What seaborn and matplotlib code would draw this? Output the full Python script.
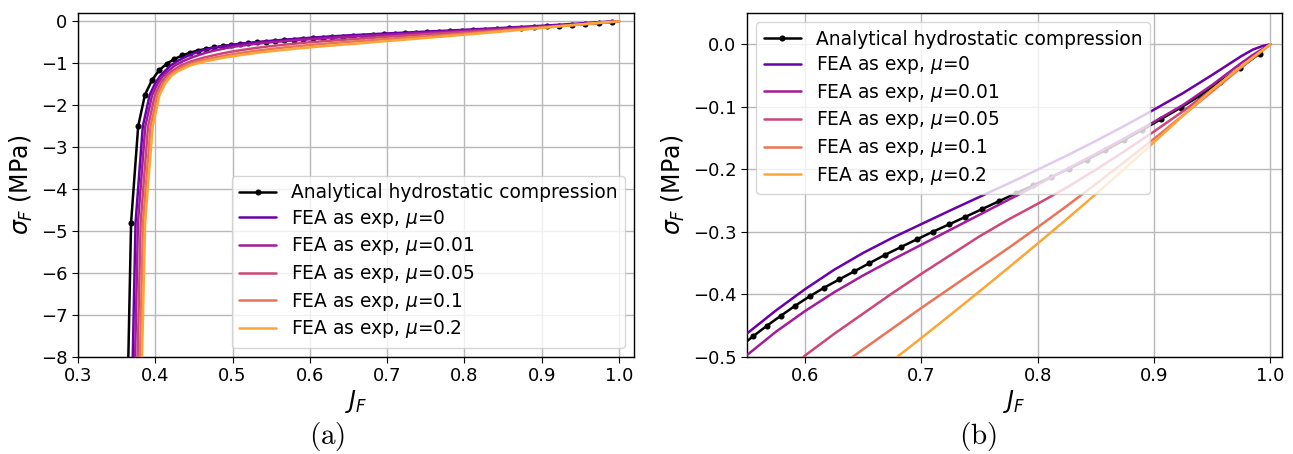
import numpy as np
import matplotlib
matplotlib.use("Agg")
import matplotlib.pyplot as plt
import seaborn as sns

# ---------------- data ----------------
J_analytical = [0.3600, 0.3687, 0.3779, 0.3866, 0.3960, 0.4053, 0.4148, 0.4248, 0.4349, 0.4451,
                0.4554, 0.4659, 0.4765, 0.4872, 0.4980, 0.5090, 0.5201, 0.5314, 0.5432, 0.5552,
                0.5672, 0.5792, 0.5915, 0.6039, 0.6166, 0.6293, 0.6423, 0.6553, 0.6684, 0.6821,
                0.6959, 0.7096, 0.7237, 0.7378, 0.7522, 0.7667, 0.7815, 0.7963, 0.8114, 0.8269,
                0.8424, 0.8580, 0.8738, 0.8900, 0.9062, 0.9228, 0.9393, 0.9563, 0.9735, 0.9908]
sigma_analytical = [-12.7, -4.80, -2.50, -1.754, -1.389, -1.163, -1.008, -0.897, -0.812, -0.745,
                    -0.695, -0.654, -0.620, -0.591, -0.566, -0.544, -0.523, -0.503, -0.485, -0.467,
                    -0.450, -0.434, -0.418, -0.403, -0.389, -0.376, -0.363, -0.350, -0.337, -0.3245,
                    -0.312, -0.300, -0.288, -0.276, -0.2635, -0.251, -0.238, -0.2255, -0.2125, -0.199,
                    -0.1845, -0.1695, -0.1537, -0.1368, -0.1195, -0.1015, -0.0825, -0.0605, -0.0385, -0.0148]

J_mu0 = [0.3656, 0.3709, 0.3745, 0.3798, 0.3839, 0.3887, 0.3927, 0.4001, 0.4064, 0.4121,
         0.4201, 0.4284, 0.4376, 0.4460, 0.4544, 0.4636, 0.4738, 0.4852, 0.4989, 0.5120,
         0.550, 0.575, 0.600, 0.625, 0.650, 0.675, 0.700, 0.725, 0.750, 0.775,
         0.800, 0.825, 0.850, 0.875, 0.900, 0.925, 0.950, 0.965, 0.975, 0.985, 0.993, 1.000]
sigma_mu0 = [-12.7, -8.0, -4.8, -3.5, -2.5, -2.1, -1.754, -1.47, -1.3, -1.19,
             -1.05, -0.95, -0.86, -0.79, -0.73, -0.68, -0.635, -0.595, -0.5575, -0.528,
             -0.4625, -0.4255, -0.3915, -0.3605, -0.3335, -0.3095, -0.2875, -0.2655, -0.2440, -0.2225,
             -0.2005, -0.1780, -0.1545, -0.1300, -0.1045, -0.0780, -0.0490, -0.0310, -0.0190, -0.0085, -0.0030, 0.0]

J_mu001 = [0.3686, 0.3739, 0.3776, 0.3830, 0.3871, 0.3919, 0.3959, 0.4034, 0.4100, 0.4163,
           0.4256, 0.4358, 0.4474, 0.4583, 0.4689, 0.4804, 0.4924, 0.5052, 0.5201, 0.5337,
           0.550, 0.575, 0.600, 0.625, 0.650, 0.675, 0.700, 0.725, 0.750, 0.775,
           0.800, 0.825, 0.850, 0.875, 0.900, 0.925, 0.950, 0.965, 0.975, 0.985, 1.000]
sigma_mu001 = [-12.7, -8.0, -4.8, -3.5, -2.5, -2.1, -1.754, -1.47, -1.3, -1.19,
               -1.05, -0.95, -0.86, -0.79, -0.73, -0.68, -0.635, -0.595, -0.5575, -0.528,
               -0.4970, -0.4595, -0.4265, -0.3965, -0.3695, -0.3445, -0.3205, -0.2965, -0.2725, -0.2485,
               -0.2245, -0.1995, -0.1750, -0.1500, -0.1240, -0.0970, -0.0650, -0.0440, -0.0300, -0.0170, 0.0]

J_mu005 = [0.3719, 0.3772, 0.3811, 0.3865, 0.3907, 0.3955, 0.3995, 0.4070, 0.4140, 0.4211,
           0.4330, 0.4467, 0.4635, 0.4800, 0.4957, 0.5129, 0.5296, 0.5472, 0.5659, 0.5827,
           0.600, 0.625, 0.650, 0.675, 0.700, 0.725, 0.750, 0.775, 0.800, 0.825,
           0.850, 0.875, 0.900, 0.925, 0.950, 0.975, 1.000]
sigma_mu005 = [-12.7, -8.0, -4.8, -3.5, -2.5, -2.1, -1.754, -1.47, -1.3, -1.19,
               -1.05, -0.95, -0.86, -0.79, -0.73, -0.68, -0.635, -0.595, -0.5575, -0.528,
               -0.4975, -0.4630, -0.4305, -0.3980, -0.3670, -0.3370, -0.3070, -0.2800, -0.2550, -0.2290,
               -0.2005, -0.1705, -0.1395, -0.1070, -0.0725, -0.0360, 0.0]

J_mu01 = [0.3749, 0.3802, 0.3842, 0.3896, 0.3939, 0.3988, 0.4028, 0.4103, 0.4176, 0.4254,
          0.4393, 0.4562, 0.4772, 0.4982, 0.5180, 0.5398, 0.5605, 0.5816, 0.6034, 0.6224,
          0.640, 0.650, 0.675, 0.700, 0.725, 0.750, 0.775, 0.800, 0.825, 0.850,
          0.875, 0.900, 0.925, 0.950, 0.975, 1.000]
sigma_mu01 = [-12.7, -8.0, -4.8, -3.5, -2.5, -2.1, -1.754, -1.47, -1.3, -1.19,
              -1.05, -0.95, -0.86, -0.79, -0.73, -0.68, -0.635, -0.595, -0.5575, -0.528,
              -0.5010, -0.4875, -0.4545, -0.4215, -0.3895, -0.3575, -0.3255, -0.2925, -0.2585, -0.2235,
              -0.1875, -0.1510, -0.1135, -0.0755, -0.0370, 0.0]

J_mu02 = [0.3775, 0.3829, 0.3869, 0.3924, 0.3967, 0.4016, 0.4056, 0.4132, 0.4207, 0.4292,
          0.4452, 0.4650, 0.4902, 0.5157, 0.5397, 0.5662, 0.5908, 0.6157, 0.6407, 0.6620,
          0.680, 0.700, 0.725, 0.750, 0.775, 0.800, 0.825, 0.850, 0.875, 0.900,
          0.925, 0.950, 0.975, 1.000]
sigma_mu02 = [-12.7, -8.0, -4.8, -3.5, -2.5, -2.1, -1.754, -1.47, -1.3, -1.19,
              -1.05, -0.95, -0.86, -0.79, -0.73, -0.68, -0.635, -0.595, -0.5575, -0.528,
              -0.4985, -0.4695, -0.4325, -0.3950, -0.3570, -0.3185, -0.2795, -0.2395, -0.1985, -0.1565,
              -0.1140, -0.0725, -0.0350, 0.0]

mu_labels = ["0", "0.01", "0.05", "0.1", "0.2"]
fea_J = [J_mu0, J_mu001, J_mu005, J_mu01, J_mu02]
fea_sigma = [sigma_mu0, sigma_mu001, sigma_mu005, sigma_mu01, sigma_mu02]

# ---------------- style ----------------
sns.set_style("ticks")
plt.rcParams.update({
    "font.family": ["DejaVu Sans"],
    "text.color": "black",
    "axes.labelcolor": "black",
    "axes.edgecolor": "black",
    "axes.linewidth": 1.0,
    "xtick.color": "black",
    "ytick.color": "black",
    "xtick.labelsize": 13,
    "ytick.labelsize": 13,
    "xtick.major.size": 4,
    "ytick.major.size": 4,
    "mathtext.fontset": "dejavusans",
})

colors = plt.get_cmap("plasma")(np.linspace(0.2, 0.8, 5))

fig = plt.figure(figsize=(12.93, 4.54), dpi=100)
axA = fig.add_axes([0.0603, 0.2137, 0.4304, 0.7577])
axB = fig.add_axes([0.5777, 0.2137, 0.4138, 0.7577])

for ax in (axA, axB):
    sns.lineplot(x=J_analytical, y=sigma_analytical, ax=ax, color="black", lw=1.8,
                 marker="o", markersize=4.4, markeredgecolor="black", markeredgewidth=0,
                 label="Analytical hydrostatic compression", estimator=None, sort=False, zorder=2)
    for Js, ss, mu, c in zip(fea_J, fea_sigma, mu_labels, colors):
        sns.lineplot(x=Js, y=ss, ax=ax, color=c, lw=1.8,
                     label=rf"FEA as exp, $\mu$={mu}", estimator=None, sort=False, zorder=3)
    ax.grid(True, color="#b8b8b8", lw=1.0)
    ax.set_axisbelow(True)
    ax.set_xlabel(r"$J_F$", fontsize=17, labelpad=2)
    ax.set_ylabel(r"$\sigma_F$ (MPa)", fontsize=17)

axA.set_xlim(0.3, 1.02)
axA.set_ylim(-8, 0.2)
axB.set_xlim(0.55, 1.01)
axB.set_ylim(-0.5, 0.05)

axA.legend(loc="lower right", fontsize=13.4, labelspacing=0.3)
axB.legend(loc="upper left", fontsize=13.4, labelspacing=0.3)

fig.text(0.253, 0.038, r"$\mathrm{(a)}$", fontsize=21, ha="center", va="center", math_fontfamily="cm")
fig.text(0.756, 0.038, r"$\mathrm{(b)}$", fontsize=21, ha="center", va="center", math_fontfamily="cm")

fig.savefig("out.png", dpi=100)
